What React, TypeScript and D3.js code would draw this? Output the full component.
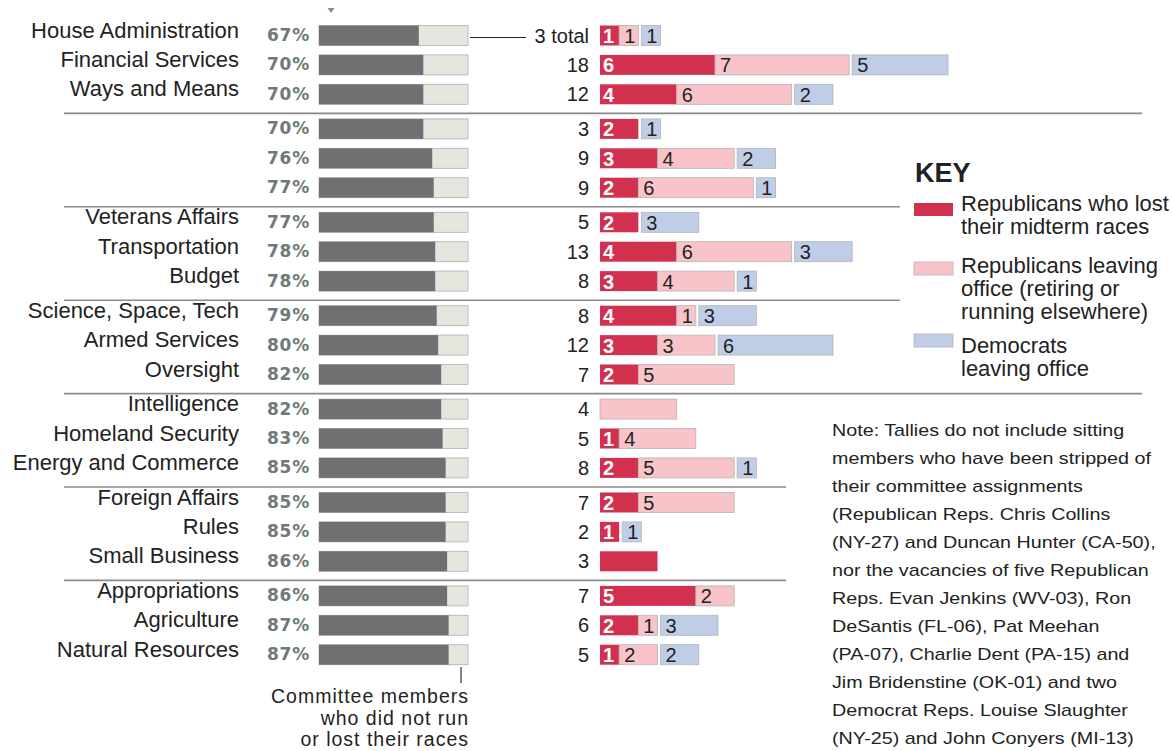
import React from 'react';
import * as d3 from 'd3';

// committees, top to bottom (three per group)
const committees = [
  'House Administration', 'Financial Services', 'Ways and Means',
  '', '', '',
  'Veterans Affairs', 'Transportation', 'Budget',
  'Science, Space, Tech', 'Armed Services', 'Oversight',
  'Intelligence', 'Homeland Security', 'Energy and Commerce',
  'Foreign Affairs', 'Rules', 'Small Business',
  'Appropriations', 'Agriculture', 'Natural Resources',
];

// share of members returning (did run and did not lose)
const pctValues = [67, 70, 70, 70, 76, 77, 77, 78, 78, 79, 80, 82, 82, 83, 85, 85, 85, 86, 86, 87, 87];

// departures per committee
const lostValues = [1, 6, 4, 2, 3, 2, 2, 4, 3, 4, 3, 2, 0, 1, 2, 2, 1, 3, 5, 2, 1];
const leavingValues = [1, 7, 6, 0, 4, 6, 0, 6, 4, 1, 3, 5, 4, 4, 5, 5, 0, 0, 2, 1, 2];
const demValues = [1, 5, 2, 1, 2, 1, 3, 3, 1, 3, 6, 0, 0, 0, 1, 0, 1, 0, 0, 3, 2];

const keyItems = [
  { color: '#d2304f', lines: ['Republicans who lost', 'their midterm races'] },
  { color: '#f8c4ca', lines: ['Republicans leaving', 'office (retiring or', 'running elsewhere)'] },
  { color: '#bfcde6', lines: ['Democrats', 'leaving office'] },
];

const noteLines = [
  'Note: Tallies do not include sitting',
  'members who have been stripped of',
  'their committee assignments',
  '(Republican Reps. Chris Collins',
  '(NY-27) and Duncan Hunter (CA-50),',
  'nor the vacancies of five Republican',
  'Reps. Evan Jenkins (WV-03), Ron',
  'DeSantis (FL-06), Pat Meehan',
  '(PA-07), Charlie Dent (PA-15) and',
  'Jim Bridenstine (OK-01) and two',
  'Democrat Reps. Louise Slaughter',
  '(NY-25) and John Conyers (MI-13)',
];

const annotationLines = ['Committee members', 'who did not run', 'or lost their races'];

const FONT = '"Liberation Sans", Arial, Helvetica, sans-serif';

const App = () => {
  const width = 1172;
  const height = 751;

  // row layout: groups of three with a small gap
  const rowY = (i: number) => 35.5 + Math.floor(i / 3) * 93.4 + (i % 3) * 29.4;
  const barH = 20;

  const pctScale = d3.scaleLinear().domain([0, 100]).range([319, 468]);
  const countScale = d3.scaleLinear().domain([0, 18]).range([600, 945]);
  const unit = (v: number) => countScale(v) - countScale(0);

  const segColors = ['#d2304f', '#f8c4ca', '#bfcde6'];
  const segText = ['#ffffff', '#222', '#222'];

  const groupStarts = d3.range(3, committees.length, 3);
  const sepRight = [1142, 900, 900, 1142, 786, 786];

  // legend layout
  const keySwatchTop = [203, 262, 334];
  const keyTextTop = [211, 273, 353];

  return (
    <svg
      width={width}
      height={height}
      style={{ position: 'absolute', left: 0, top: 0, background: '#fff' }}
      fontFamily={FONT}
    >
      {/* group separators */}
      {groupStarts.map((s, gi) => (
        <line
          key={'sep' + s}
          x1={64}
          x2={sepRight[gi]}
          y1={rowY(s) - 15.5}
          y2={rowY(s) - 15.5}
          stroke="#8a8a8a"
          strokeWidth={1.6}
        />
      ))}

      {/* marker above percent bars */}
      <path d="M327.5,8 L334.5,8 L331,13 Z" fill="#8c8c8c" />

      {committees.map((name, i) => {
        const cy = rowY(i);
        const segs = [lostValues[i], leavingValues[i], demValues[i]];
        const total = d3.sum(segs);
        let x = countScale(0);
        const rects: JSX.Element[] = [];
        segs.forEach((v, si) => {
          if (v <= 0) return;
          if (si === 2 && x > countScale(0)) x += 3;
          const w = unit(v);
          rects.push(
            <g key={si}>
              <rect
                x={x}
                y={cy - barH / 2}
                width={w}
                height={barH}
                fill={segColors[si]}
                stroke="#b4b4b4"
                strokeWidth={si === 0 ? 0 : 0.8}
              />
              {v !== total && (
                <text
                  x={x + (si === 0 ? 3 : 5)}
                  y={cy + 7.5}
                  fontSize={20}
                  fill={segText[si]}
                  fontWeight={si === 0 ? 'bold' : 'normal'}
                >
                  {v}
                </text>
              )}
            </g>
          );
          x += w;
        });
        return (
          <g key={'row' + i}>
            <text x={239} y={cy + 2} fontSize={22} textAnchor="end" fill="#222">
              {name}
            </text>
            <text
              x={310}
              y={cy + 5.5}
              fontSize={17}
              fontWeight="bold"
              fontFamily='"DejaVu Sans", Verdana, sans-serif'
              letterSpacing={0.8}
              textAnchor="end"
              fill="#6f7a76"
            >
              {pctValues[i]}%
            </text>
            <rect
              x={pctScale(0)}
              y={cy - barH / 2}
              width={pctScale(100) - pctScale(0)}
              height={barH}
              fill="#e6e6df"
              stroke="#b0b0b0"
              strokeWidth={0.8}
            />
            <rect
              x={pctScale(0)}
              y={cy - barH / 2}
              width={pctScale(pctValues[i]) - pctScale(0)}
              height={barH}
              fill="#707072"
            />
            <text x={589} y={cy + 7} fontSize={20} textAnchor="end" fill="#222">
              {i === 0 ? `${total} total` : total}
            </text>
            {rects}
          </g>
        );
      })}

      {/* leader from first bar to its total */}
      <line x1={pctScale(100) + 2} x2={526} y1={rowY(0) + 2} y2={rowY(0) + 2} stroke="#222" strokeWidth={1.2} />

      {/* bottom annotation */}
      <line x1={461} x2={461} y1={667} y2={683} stroke="#333" strokeWidth={1.2} />
      {annotationLines.map((t, i) => (
        <text
          key={t}
          x={469}
          y={703 + i * 21.5}
          fontSize={19.5}
          letterSpacing={1}
          textAnchor="end"
          fill="#222"
        >
          {t}
        </text>
      ))}

      {/* key */}
      <text x={915} y={182} fontSize={27} fontWeight="bold" fill="#222">
        KEY
      </text>
      {keyItems.map((k, ki) => (
        <g key={'key' + ki}>
          <rect
            x={914}
            y={keySwatchTop[ki]}
            width={39}
            height={13}
            fill={k.color}
            stroke="#b4b4b4"
            strokeWidth={ki === 0 ? 0 : 0.8}
          />
          {k.lines.map((l, li) => (
            <text key={l} x={961} y={keyTextTop[ki] + li * 23} fontSize={22} fill="#222">
              {l}
            </text>
          ))}
        </g>
      ))}

      {/* note */}
      <g transform="translate(832,0) scale(1.16,1)">
        {noteLines.map((l, i) => (
          <text key={i} x={0} y={436 + i * 28} fontSize={17} fill="#222">
            {l}
          </text>
        ))}
      </g>
    </svg>
  );
};

export default App;
